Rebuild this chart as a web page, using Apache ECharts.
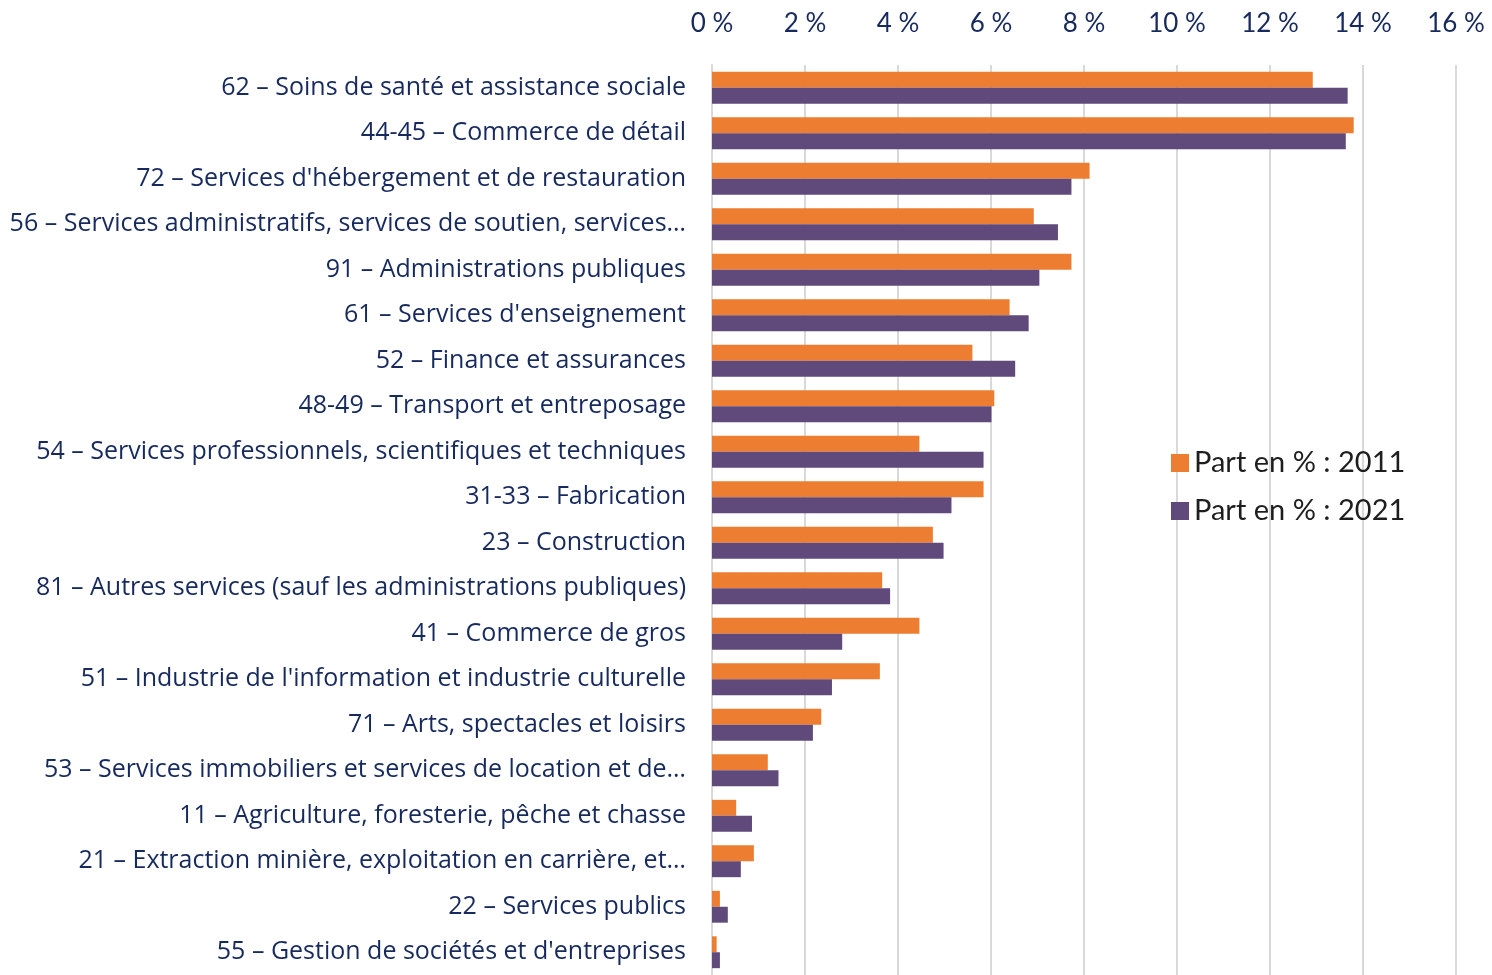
<!DOCTYPE html>
<html>
<head>
<meta charset="utf-8">
<script src="https://cdn.jsdelivr.net/npm/echarts@6/dist/echarts.min.js"></script>
<style>
    html, body { margin: 0; padding: 0; background: #fff; }
    #chart { width: 1492px; height: 975px; }
</style>
</head>
<body>
<div id="chart"></div>
<script>
    // categories, top to bottom
    var categories = [
        '62 – Soins de santé et assistance sociale',
        '44-45 – Commerce de détail',
        "72 – Services d'hébergement et de restauration",
        '56 – Services administratifs, services de soutien, services…',
        '91 – Administrations publiques',
        "61 – Services d'enseignement",
        '52 – Finance et assurances',
        '48-49 – Transport et entreposage',
        '54 – Services professionnels, scientifiques et techniques',
        '31-33 – Fabrication',
        '23 – Construction',
        '81 – Autres services (sauf les administrations publiques)',
        '41 – Commerce de gros',
        "51 – Industrie de l'information et industrie culturelle",
        '71 – Arts, spectacles et loisirs',
        '53 – Services immobiliers et services de location et de…',
        '11 – Agriculture, foresterie, pêche et chasse',
        '21 – Extraction minière, exploitation en carrière, et…',
        '22 – Services publics',
        "55 – Gestion de sociétés et d'entreprises"
    ];
    var part2011 = [12.92, 13.80, 8.12, 6.92, 7.73, 6.40, 5.60, 6.07, 4.46, 5.84,
                    4.75, 3.66, 4.46, 3.61, 2.35, 1.20, 0.52, 0.90, 0.17, 0.10];
    var part2021 = [13.67, 13.63, 7.73, 7.44, 7.04, 6.81, 6.52, 6.01, 5.84, 5.15,
                    4.98, 3.83, 2.80, 2.58, 2.17, 1.43, 0.86, 0.62, 0.34, 0.17];
    var seriesNames = ['Part en % : 2011', 'Part en % : 2021'];
    var xTicks = { min: 0, max: 16, step: 2 };

    var font = 'Lato, "Open Sans", sans-serif';
    var navy = '#172a5e';

    var chart = echarts.init(document.getElementById('chart'));
    var option = {
        animation: false,
        color: ['#ed7d31', '#604a7b'],
        textStyle: { fontFamily: font },
        grid: {
            left: 712,
            top: 65,
            width: 744,
            height: 915
        },
        legend: {
            orient: 'vertical',
            left: 1166,
            top: 443,
            icon: 'rect',
            itemWidth: 18,
            itemHeight: 18,
            itemGap: 18,
            textStyle: { fontFamily: font, fontSize: 29, color: '#1e1e1e', lineHeight: 30 },
            data: seriesNames
        },
        xAxis: {
            type: 'value',
            position: 'top',
            min: xTicks.min,
            max: xTicks.max,
            interval: xTicks.step,
            axisLine: { show: false },
            axisTick: { show: false },
            splitLine: { lineStyle: { color: '#d9d9d9', width: 2 } },
            axisLabel: {
                formatter: '{value} %',
                fontSize: 26,
                color: navy,
                margin: 28
            }
        },
        yAxis: {
            type: 'category',
            inverse: true,
            data: categories,
            axisTick: { show: false },
            axisLine: { lineStyle: { color: '#d9d9d9', width: 2 } },
            axisLabel: {
                fontFamily: '"Open Sans", Lato, sans-serif',
                fontSize: 25,
                color: navy,
                margin: 26,
                padding: [0, 0, 4, 0]
            }
        },
        series: [
            {
                name: seriesNames[0],
                type: 'bar',
                data: part2011,
                barGap: '0%',
                barCategoryGap: '30%'
            },
            {
                name: seriesNames[1],
                type: 'bar',
                data: part2021,
                barGap: '0%',
                barCategoryGap: '30%'
            }
        ]
    };
    chart.setOption(option);
</script>
</body>
</html>
